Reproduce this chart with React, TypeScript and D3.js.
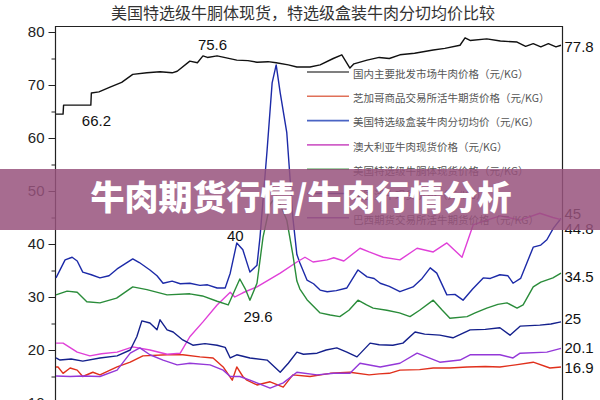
import { useEffect, useRef } from 'react'
import * as d3 from 'd3'

type Pt = [number, number]

// time axis is an index 0..100 across the plot
const domestic: Pt[] = [[0,64.5],[1.4,64.5],[1.5,66.2],[6.9,66.2],[7,68.5],[8.5,68.7],[10.7,69.6],[13,70.5],[15.2,72],[18,72.3],[20.6,72.5],[23,72.3],[24,72.6],[26.5,74.5],[28,74.2],[29.1,75.5],[30,75.2],[31.9,75.5],[35.8,74.7],[38,74.6],[39.8,74.3],[42,74.4],[43.6,74.2],[46,73.8],[47.7,73.4],[50.3,73.4],[52.3,73.8],[54.9,75],[56.6,75.7],[58.2,73.2],[59,74],[61.6,74.7],[64,75.2],[66,75],[68.1,75.7],[71,76],[74.7,76.6],[77,76.9],[80,77.5],[81,78.9],[82,78.4],[85.3,78.7],[88,78.3],[91.3,78.1],[93,77.3],[94.5,77.8],[96,77.2],[97.5,77.8],[99,77.2],[100,77.5]]
const cmeCattle: Pt[] = [[0,16.8],[0.4,16.8],[1.4,15.6],[2.8,16.6],[4.2,16.2],[5.3,15],[7.3,15.8],[8.7,15.3],[12.1,16.8],[14.7,17.7],[17.2,18.9],[22,19.1],[25.1,19.1],[28.5,18.7],[31.1,18.5],[33.1,16.8],[34.9,14.3],[35.8,16.8],[37,15],[37.8,14.3],[39.8,13.4],[42.4,14],[45,13],[46.9,15.3],[50.3,15],[54.3,15.6],[58.2,15.8],[62,15.3],[64,15.5],[66,15.6],[68.1,16.2],[72,16.3],[74.7,16.6],[78,16.6],[81.4,16.8],[85,16.9],[87.9,16.8],[91,17.2],[94.5,17.7],[97.8,16.6],[100,16.8]]
const boxedCutout: Pt[] = [[0,33.6],[1.8,37],[3.2,37.5],[4.2,36.8],[5.3,34.7],[7,34.2],[8.7,33.6],[10.5,34],[12.1,35.3],[15.2,37.2],[16.5,36.5],[18.6,35.1],[20,34],[21.2,32.6],[23,33],[24.6,32.5],[26.5,32.6],[28.5,32.2],[30,32.3],[31.9,31.7],[33.5,31.7],[34.5,34.5],[35.8,40.2],[37,38.9],[38.4,34.7],[39.8,36],[40.4,41.3],[41.8,57.7],[42.8,70.4],[43.6,73.8],[44.4,68.5],[45.7,61],[46.9,45],[47.7,38],[48.3,36.4],[49.7,33.2],[51,32.5],[52.3,31.3],[53.7,31],[55.5,31.2],[57.6,31.7],[59.8,35.1],[61.6,33.8],[63,33.5],[64.2,32.6],[66,32],[68.1,31],[70.7,31.9],[72.5,33.5],[74.1,35.5],[75.4,34.5],[77.4,30.4],[79,30.5],[80.6,29.4],[82.5,31.5],[84.6,33.6],[86,33.5],[87.9,34.2],[89.5,34],[90.5,32.6],[92,33.5],[94.5,39.4],[96,39.8],[97.2,40.8],[98.5,43],[100,44.8]]
const australia: Pt[] = [[0,21.3],[1.4,21.3],[4.2,19.6],[6.7,18.9],[9,19.3],[12.1,19.6],[15.2,20.6],[18.6,20],[22,19.2],[24.6,19.4],[26.5,22.5],[29.1,25.3],[31.9,28.5],[34.5,30.9],[35.4,30],[37,30.8],[39.8,31.9],[44.4,34.5],[47.7,36.6],[49.3,37.5],[50.9,36.6],[53.7,37],[55,37.4],[57,36.8],[60.2,39.2],[62,38.5],[64.8,37.5],[68.1,37],[71.5,39.2],[74.7,38.5],[77.4,40.2],[80.4,37.5],[82.6,43.6],[85.3,44.5],[88,45.3],[91.9,44.5],[95.8,45.8],[98.4,45],[100,44.6]]
const carcass: Pt[] = [[0,30.4],[2.2,31.1],[4.2,30.9],[6.1,29.1],[8.7,28.9],[12,29.8],[15.2,31.9],[18,31.4],[22,30.4],[26.5,30.6],[29,30.2],[31.9,29.2],[34.1,28.5],[36.4,33.4],[37.5,31.5],[38.4,29.4],[39.8,32.6],[41,41.3],[42.4,47.5],[43.6,49],[44.6,47],[45.7,44.5],[46.9,38],[47.7,33],[48.3,31.5],[49.7,29.5],[52.3,27],[54.3,26.6],[56.2,26.3],[58,27.5],[59.8,29.4],[61.5,28.5],[62.8,27.9],[65.5,27.5],[68,27],[70.1,26.3],[72,27.5],[74.7,29.4],[76.5,27.5],[78,26],[81.4,26.3],[83,27],[85.3,27.9],[87.5,28.6],[89.3,28.9],[91.3,27.9],[92.5,28.5],[94.5,31.9],[96,32.8],[98.4,33.6],[100,34.5]]
const usLive: Pt[] = [[0,18.5],[0.8,18.1],[3,18.3],[5.3,17.9],[8.7,18.5],[12.1,18.9],[14.7,20],[16,22.5],[17,25.5],[18.6,25.1],[20,23.8],[20.6,25.7],[22,23.8],[23.2,23.4],[25.1,21.9],[27.1,20.9],[29.5,21.2],[31.9,20.9],[33.5,20.5],[34.5,18.5],[35.8,19.1],[38.4,18.5],[41.8,18.1],[44.4,15.8],[46,17.5],[47.7,19.6],[49,19.2],[51.7,19.4],[53.5,20],[55.6,20.4],[57.6,19.6],[59.6,18.7],[62.2,21.3],[64,21],[66.7,20.9],[68.7,21.3],[71.1,23.4],[73,23],[76,22.8],[78.6,22.3],[82,23.8],[85,23.9],[87.9,24.2],[89.9,22.8],[91.9,24.5],[95.8,24.7],[98,24.9],[100,25.3]]
const brazil: Pt[] = [[0,15.1],[2.8,15],[5.3,15.1],[8.7,15],[12.1,16.2],[14.7,19.4],[16.6,20.4],[18.6,19.1],[21.2,18.1],[24,17.2],[26.5,17.5],[30.5,17.2],[33.1,16.2],[34.5,15],[36.4,15],[38.4,14.3],[42.4,12.8],[45,13.8],[47.7,15.8],[51.7,15.3],[55,15.6],[58.2,15.6],[60.2,17.5],[64.2,16.8],[68.1,17.5],[71.5,19.4],[76,17.7],[80,18.1],[82,19.1],[87.9,19.1],[90.5,18.5],[91.9,19.4],[97.2,19.6],[100,20.3]]

const seriesNames = [
  '国内主要批发市场牛肉价格（元/KG）',
  '芝加哥商品交易所活牛期货价格（元/KG）',
  '美国特选级盒装牛肉分切均价（元/KG）',
  '澳大利亚牛肉现货价格（元/KG）',
  '美国特选级牛胴体现货价格（元/KG）',
  '美国活牛现货价格（元/KG）',
  '巴西期货交易所活牛期货价格（元/KG）',
]
const seriesData = [domestic, cmeCattle, boxedCutout, australia, carcass, usLive, brazil]
const lineColors = ['#111111', '#e0301c', '#1c2aa8', '#e040d8', '#2a8c3a', '#14208c', '#9438d8']
const legendColors = ['#555555', '#e07058', '#4a64c4', '#d060c8', '#48a050', '#3a3aa0', '#9050c0']

const yTicks = [10, 20, 30, 40, 50, 60, 70, 80]
const yMinorTicks = [15, 25, 35, 45, 55, 65, 75]

// [series index, label, t, value, dx, dy]
const callouts: [string, number, number, number, number][] = [
  ['66.2', 8, 66.2, 0, 17],
  ['75.6', 31, 75.6, 0, -9],
  ['40', 35.5, 40.2, 0, -6],
  ['29.6', 40, 29.6, 0, 19],
]
const endLabels: [string, number, number][] = [
  ['77.8', 77.5, 3],
  ['45', 44.6, -5],
  ['44.8', 44.8, 11],
  ['34.5', 34.5, 5],
  ['25', 25.3, -2],
  ['20.1', 20.3, 1],
  ['16.9', 16.8, 2],
]

export default function App() {
  const svgRef = useRef<SVGSVGElement | null>(null)

  useEffect(() => {
    if (!svgRef.current) return
    const width = 600
    const height = 400
    const svg = d3.select(svgRef.current)
    svg.selectAll('*').remove()
    svg.attr('viewBox', `0 0 ${width} ${height}`)

    const left = 55.5
    const right = 562.5
    const top = 26.5

    const x = d3.scaleLinear().domain([0, 100]).range([56, 561])
    const y = d3.scaleLinear().domain([10, 80]).range([403, 32])

    svg.append('rect').attr('width', width).attr('height', height).attr('fill', '#ffffff')

    // title
    svg.append('text')
      .attr('x', 303)
      .attr('y', 19)
      .attr('text-anchor', 'middle')
      .attr('font-family', '"Noto Sans CJK SC", sans-serif')
      .attr('font-size', 16)
      .attr('fill', '#333')
      .text('美国特选级牛胴体现货，特选级盒装牛肉分切均价比较')

    // frame
    svg.append('path')
      .attr('d', `M${left},${height + 10}V${top}H${right}V${height + 10}`)
      .attr('fill', 'none')
      .attr('stroke', '#222')
      .attr('stroke-width', 1.2)

    const axis = svg.append('g')
      .attr('transform', `translate(${left},0)`)
      .call(d3.axisLeft(y).tickValues(yTicks).tickSize(7).tickPadding(4).tickFormat(d3.format('d')))
    axis.select('.domain').remove()
    axis.selectAll('line').attr('stroke', '#222')
    axis.selectAll('text')
      .attr('font-family', '"Liberation Sans", Arial, sans-serif')
      .attr('font-size', 15)
      .attr('fill', '#222')

    const minor = svg.append('g')
      .attr('transform', `translate(${left},0)`)
      .call(d3.axisLeft(y).tickValues(yMinorTicks).tickSize(4).tickFormat(() => ''))
    minor.select('.domain').remove()
    minor.selectAll('line').attr('stroke', '#222')

    const line = d3.line<Pt>()
      .x(d => x(d[0]))
      .y(d => y(d[1]))
      .curve(d3.curveLinear)

    const plot = svg.append('g')
    seriesData.forEach((data, i) => {
      plot.append('path')
        .datum(data)
        .attr('d', line)
        .attr('fill', 'none')
        .attr('stroke', lineColors[i])
        .attr('stroke-width', 1.4)
        .attr('stroke-linejoin', 'round')
    })

    const numFont = '"Liberation Sans", Arial, sans-serif'
    callouts.forEach(([label, t, v, dx, dy]) => {
      svg.append('text')
        .attr('x', x(t) + dx)
        .attr('y', y(v) + dy)
        .attr('text-anchor', 'middle')
        .attr('dominant-baseline', 'middle')
        .attr('font-family', numFont)
        .attr('font-size', 15)
        .attr('fill', '#111')
        .text(label)
    })
    endLabels.forEach(([label, v, dy]) => {
      svg.append('text')
        .attr('x', right + 2)
        .attr('y', y(v) + dy)
        .attr('dominant-baseline', 'middle')
        .attr('font-family', numFont)
        .attr('font-size', 15)
        .attr('fill', '#111')
        .text(label)
    })

    // legend
    const legend = svg.append('g')
    seriesNames.forEach((name, i) => {
      const ly = 72 + i * 24.3
      legend.append('line')
        .attr('x1', 307).attr('x2', 349)
        .attr('y1', ly).attr('y2', ly)
        .attr('stroke', legendColors[i])
        .attr('stroke-width', 1.6)
      legend.append('text')
        .attr('x', 353)
        .attr('y', ly + 3)
        .attr('dominant-baseline', 'middle')
        .attr('font-family', '"Noto Sans CJK SC", sans-serif')
        .attr('font-size', 10.5)
        .attr('fill', '#555')
        .text(name)
    })

    // overlay banner
    svg.append('rect')
      .attr('x', 0).attr('y', 169)
      .attr('width', width).attr('height', 61)
      .attr('fill', 'rgb(152, 82, 124)')
      .attr('opacity', 0.85)
    svg.append('text')
      .attr('x', 301)
      .attr('y', 201)
      .attr('text-anchor', 'middle')
      .attr('dominant-baseline', 'middle')
      .attr('font-family', '"Noto Sans CJK SC", sans-serif')
      .attr('font-weight', 900)
      .attr('font-size', 34)
      .attr('fill', '#ffffff')
      .text('牛肉期货行情/牛肉行情分析')
  }, [])

  return (
    <svg
      ref={svgRef}
      width={600}
      height={400}
      style={{ position: 'absolute', left: 0, top: 0, display: 'block' }}
    />
  )
}
